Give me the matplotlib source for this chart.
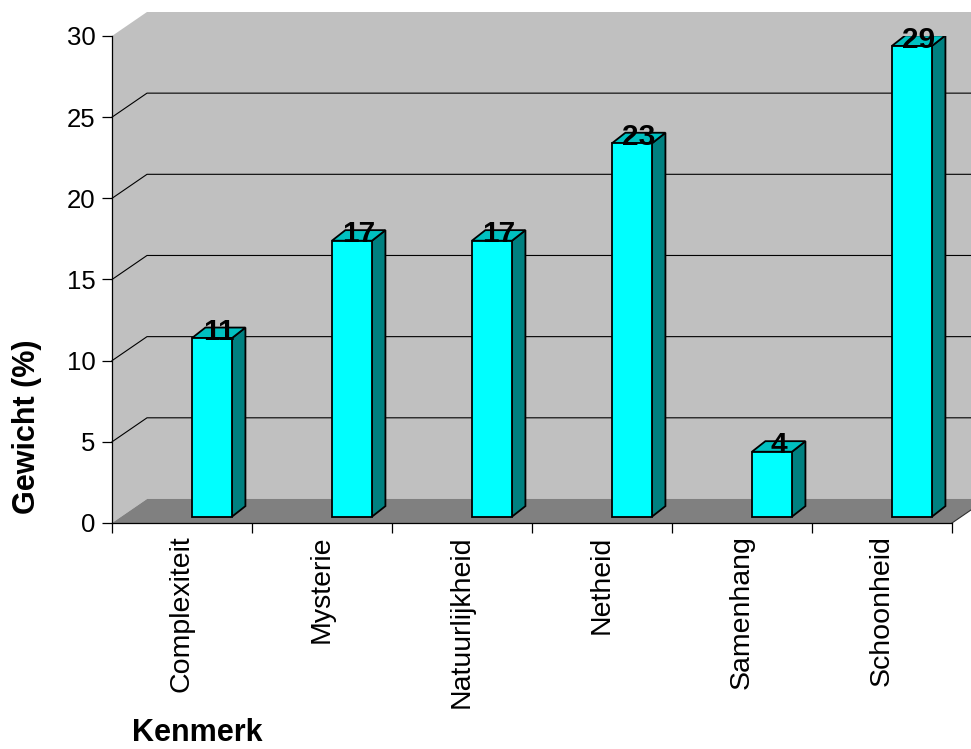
import matplotlib
matplotlib.use("Agg")
import matplotlib.pyplot as plt
from matplotlib.patches import Polygon, Rectangle

plt.rcParams['font.family'] = ['Liberation Sans', 'DejaVu Sans']

# Data
categories = ["Complexiteit", "Mysterie", "Natuurlijkheid", "Netheid", "Samenhang", "Schoonheid"]
values = [11, 17, 17, 23, 4, 29]
y_ticks = [0, 5, 10, 15, 20, 25, 30]

# Pseudo-3D geometry (data units: x per category, y in %)
DEPTH_DX, DEPTH_DY = 0.25, 1.48        # wall / floor depth
BAR_LEFT, BAR_RIGHT = 0.571, 0.857     # front face inside a category slot
BAR_LIFT = 0.39                        # front face raised onto floor
BAR_DX, BAR_DY = 0.096, 0.65           # bar depth

WALL = "#C0C0C0"
FLOOR = "#808080"
FRONT = "#00FFFF"
SIDE = "#008080"
TOP = "#00C0C0"

fig = plt.figure(figsize=(9.71, 7.49), dpi=100)
ax = fig.add_axes([112 / 971, (749 - 523) / 749, 840 / 971, 487 / 749])
ax.set_xlim(0, len(categories))
ax.set_ylim(0, 30)
ax.patch.set_visible(False)

n = len(categories)
ytop = y_ticks[-1]

# Back wall and left side wall
ax.add_patch(Polygon([(DEPTH_DX, DEPTH_DY), (n + DEPTH_DX + 1, DEPTH_DY),
                      (n + DEPTH_DX + 1, ytop + DEPTH_DY), (DEPTH_DX, ytop + DEPTH_DY)],
                     closed=True, facecolor=WALL, edgecolor='none', clip_on=False, zorder=0))
ax.add_patch(Polygon([(0, 0), (DEPTH_DX, DEPTH_DY), (DEPTH_DX, ytop + DEPTH_DY), (0, ytop)],
                     closed=True, facecolor=WALL, edgecolor='none', clip_on=False, zorder=0))
# Floor
ax.add_patch(Polygon([(0, 0), (n, 0), (n + DEPTH_DX, DEPTH_DY), (DEPTH_DX, DEPTH_DY)],
                     closed=True, facecolor=FLOOR, edgecolor='none', clip_on=False, zorder=0.5))
ax.plot([n, n + DEPTH_DX], [0, DEPTH_DY], color='#303030', lw=0.8, clip_on=False, zorder=0.6)

# Gridlines on side and back walls
for v in y_ticks[1:-1]:
    ax.plot([0, DEPTH_DX, n + DEPTH_DX + 1], [v, v + DEPTH_DY, v + DEPTH_DY],
            color='black', lw=0.8, clip_on=False, zorder=1)

# Bars
for i, v in enumerate(values):
    x0, x1 = i + BAR_LEFT, i + BAR_RIGHT
    y0, y1 = BAR_LIFT, v + BAR_LIFT
    ax.add_patch(Polygon([(x1, y0), (x1 + BAR_DX, y0 + BAR_DY), (x1 + BAR_DX, y1 + BAR_DY), (x1, y1)],
                         closed=True, facecolor=SIDE, edgecolor='black', lw=1.3, zorder=3))
    ax.add_patch(Polygon([(x0, y1), (x1, y1), (x1 + BAR_DX, y1 + BAR_DY), (x0 + BAR_DX, y1 + BAR_DY)],
                         closed=True, facecolor=TOP, edgecolor='black', lw=1.3, zorder=3))
    ax.add_patch(Rectangle((x0, y0), x1 - x0, y1 - y0,
                           facecolor=FRONT, edgecolor='black', lw=1.3, zorder=4))
    ax.text((x0 + x1) / 2 + BAR_DX / 2, y1 - 0.1, str(v), ha='center', va='baseline',
            fontsize=21.5, fontweight='bold', color='black', zorder=5, clip_on=False)

# Axes styling
for s in ('top', 'right'):
    ax.spines[s].set_visible(False)
for s in ('left', 'bottom'):
    ax.spines[s].set_color('black')
    ax.spines[s].set_linewidth(0.9)
    ax.spines[s].set_zorder(6)

ax.set_yticks(y_ticks)
ax.set_yticklabels([str(t) for t in y_ticks])
ax.tick_params(axis='y', direction='out', length=7, width=0.9, pad=5, labelsize=18.5)

ax.set_xticks(range(n + 1))
ax.set_xticklabels([])
ax.set_xticks([i + 0.5 for i in range(n)], minor=True)
ax.set_xticklabels(categories, minor=True, rotation=90, fontsize=20.5, va='top', ha='center')
ax.tick_params(axis='x', which='major', direction='out', length=7.5, width=0.9)
ax.tick_params(axis='x', which='minor', length=0, pad=9)

fig.text(27.5 / 971, 1 - 426.5 / 749, "Gewicht (%)", rotation=90, ha='center', va='center',
         fontsize=22, fontweight='bold')
fig.text(131.7 / 971, 1 / 749, "Kenmerk", ha='left', va='bottom',
         fontsize=22, fontweight='bold')

fig.savefig("out.png", dpi=100)
